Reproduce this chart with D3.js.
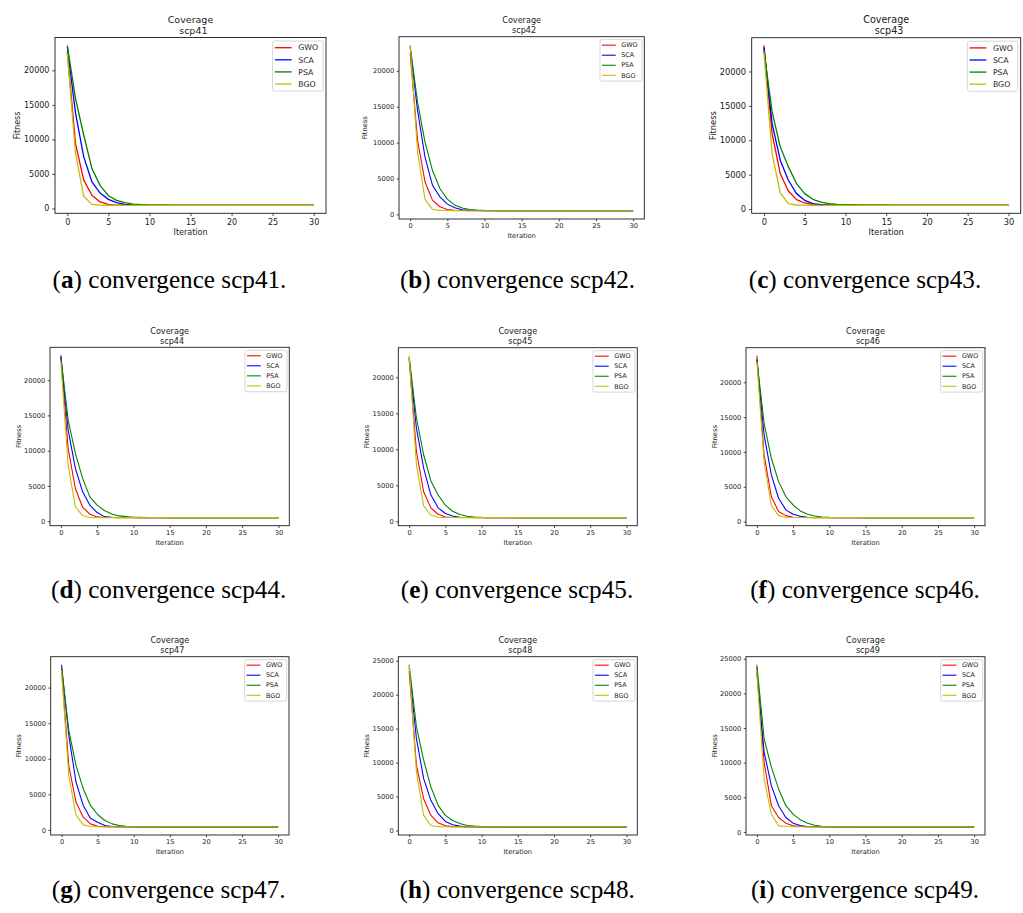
<!DOCTYPE html>
<html>
<head>
<meta charset="utf-8">
<script src="https://cdn.jsdelivr.net/npm/d3@7"></script>
<style>
body { margin: 0; background: #fff; }
svg text { font-family: "DejaVu Sans", sans-serif; fill: #222; }
svg text.caption { font-family: "Liberation Serif", serif; fill: #000; }
</style>
</head>
<body>
<div id="content"></div>
<script>
const w = 1023
const h = 913

const iterations = [0,1,2,3,4,5,6,7,8,9,10,11,12,13,14,15,16,17,18,19,20,21,22,23,24,25,26,27,28,29,30];
const xTicks = [0,5,10,15,20,25,30];
const yTicks = [0,5000,10000,15000,20000,25000];
const algorithms = ["GWO","SCA","PSA","BGO"];
const problems = ["scp41","scp42","scp43","scp44","scp45","scp46","scp47","scp48","scp49"];
const letters = ["a","b","c","d","e","f","g","h","i"];

// fitness per iteration
const gwo41 = [22600,9400,4100,1900,930,590,480,460,455,452,450, 450,450,450,450,450,450,450,450,450,450, 450,450,450,450,450,450,450,450,450,450];
const sca41 = [23400,13800,7470,3830,2230,1310,830,590,490,465,455, 452,450,450,450,450,450,450,450,450,450, 450,450,450,450,450,450,450,450,450,450];
const psa41 = [23600,15900,10600,5770,3300,1840,1160,830,630,530,480, 465,458,455,452,450,450,450,450,450,450, 450,450,450,450,450,450,450,450,450,450];
const bgo41 = [22500,7950,1750,590,480,460,455,452,450,450,450, 450,450,450,450,450,450,450,450,450,450, 450,450,450,450,450,450,450,450,450,450];

const gwo42 = [22500,10300,4530,1990,1060,690,560,530,520,515,512, 510,510,510,510,510,510,510,510,510,510, 510,510,510,510,510,510,510,510,510,510];
const sca42 = [23300,14460,7990,4070,2450,1430,920,650,560,530,520, 515,512,510,510,510,510,510,510,510,510, 510,510,510,510,510,510,510,510,510,510];
const psa42 = [23500,15600,10070,6140,3600,2130,1290,880,690,600,555, 535,525,520,515,512,510,510,510,510,510, 510,510,510,510,510,510,510,510,510,510];
const bgo42 = [23600,8680,2080,690,560,530,520,515,512,510,510, 510,510,510,510,510,510,510,510,510,510, 510,510,510,510,510,510,510,510,510,510];

const gwo43 = [23750,11000,5160,2630,1360,880,630,585,560,550,545, 540,540,540,540,540,540,540,540,540,540, 540,540,540,540,540,540,540,540,540,540];
const sca43 = [23500,12460,7100,4190,2240,1270,780,630,580,560,550, 545,540,540,540,540,540,540,540,540,540, 540,540,540,540,540,540,540,540,540,540];
const psa43 = [23000,14160,9050,6130,3700,2240,1410,1020,780,680,630, 600,580,565,555,550,545,540,540,540,540, 540,540,540,540,540,540,540,540,540,540];
const bgo43 = [22800,8080,2340,780,585,560,550,545,540,540,540, 540,540,540,540,540,540,540,540,540,540, 540,540,540,540,540,540,540,540,540,540];

const gwo44 = [23300,10330,4640,1990,1000,620,540,525,520,520,520, 520,520,520,520,520,520,520,520,520,520, 520,520,520,520,520,520,520,520,520,520];
const sca44 = [23500,12940,7490,4170,2280,1230,660,570,540,530,525, 520,520,520,520,520,520,520,520,520,520, 520,520,520,520,520,520,520,520,520,520];
const psa44 = [23200,14360,9620,6070,3460,2280,1520,1040,760,660,570, 545,535,528,524,520,520,520,520,520,520, 520,520,520,520,520,520,520,520,520,520];
const bgo44 = [22500,7960,2040,810,540,525,520,520,520,520,520, 520,520,520,520,520,520,520,520,520,520, 520,520,520,520,520,520,520,520,520,520];

const gwo45 = [22500,9720,4110,1870,980,610,540,525,520,518,515, 515,515,515,515,515,515,515,515,515,515, 515,515,515,515,515,515,515,515,515,515];
const sca45 = [22700,12990,7380,3650,1870,1080,750,560,535,525,520, 515,515,515,515,515,515,515,515,515,515, 515,515,515,515,515,515,515,515,515,515];
const psa45 = [22800,14390,9250,5610,3650,2240,1400,940,700,610,560, 540,530,525,520,518,515,515,515,515,515, 515,515,515,515,515,515,515,515,515,515];
const bgo45 = [23000,7850,2150,840,560,530,520,518,515,515,515, 515,515,515,515,515,515,515,515,515,515, 515,515,515,515,515,515,515,515,515,515];

const gwo46 = [23800,9570,3590,1440,860,620,590,580,578,576,575, 575,575,575,575,575,575,575,575,575,575, 575,575,575,575,575,575,575,575,575,575];
const sca46 = [23300,12440,6700,3350,1680,1050,770,620,595,585,580, 577,575,575,575,575,575,575,575,575,575, 575,575,575,575,575,575,575,575,575,575];
const psa46 = [23200,14120,9090,5740,3590,2390,1530,1050,810,670,620, 600,590,585,580,578,576,575,575,575,575, 575,575,575,575,575,575,575,575,575,575];
const bgo46 = [23000,8610,2300,860,620,590,580,577,575,575,575, 575,575,575,575,575,575,575,575,575,575, 575,575,575,575,575,575,575,575,575,575];

const gwo47 = [22600,9080,3910,1790,850,520,450,435,430,428,425, 425,425,425,425,425,425,425,425,425,425, 425,425,425,425,425,425,425,425,425,425];
const sca47 = [23200,13320,6730,3440,1650,1080,610,470,445,435,430, 427,425,425,425,425,425,425,425,425,425, 425,425,425,425,425,425,425,425,425,425];
const psa47 = [22800,14020,9080,5790,3440,2170,1320,850,610,520,470, 450,440,435,430,428,425,425,425,425,425, 425,425,425,425,425,425,425,425,425,425];
const bgo47 = [22400,7670,2120,710,470,440,430,427,425,425,425, 425,425,425,425,425,425,425,425,425,425, 425,425,425,425,425,425,425,425,425,425];

const gwo48 = [23500,9620,4680,2220,1130,690,570,545,538,534,532, 530,530,530,530,530,530,530,530,530,530, 530,530,530,530,530,530,530,530,530,530];
const sca48 = [24000,13560,7640,4440,2470,1330,840,640,560,545,538, 535,532,530,530,530,530,530,530,530,530, 530,530,530,530,530,530,530,530,530,530];
const psa48 = [24400,15290,10360,6410,3700,2220,1480,1040,740,640,590, 565,550,542,537,534,532,530,530,530,530, 530,530,530,530,530,530,530,530,530,530];
const bgo48 = [24400,8630,2220,740,560,540,535,532,530,530,530, 530,530,530,530,530,530,530,530,530,530, 530,530,530,530,530,530,530,530,530,530];

const gwo49 = [23800,10080,3780,2080,1260,870,775,740,730,725,722, 720,720,720,720,720,720,720,720,720,720, 720,720,720,720,720,720,720,720,720,720];
const sca49 = [23000,11530,6690,3780,2080,1260,920,775,745,735,728, 724,722,720,720,720,720,720,720,720,720, 720,720,720,720,720,720,720,720,720,720];
const psa49 = [24130,13470,9350,6200,3780,2570,1740,1260,970,820,775, 750,740,733,728,725,722,720,720,720,720, 720,720,720,720,720,720,720,720,720,720];
const bgo49 = [23000,7660,2570,870,775,745,735,728,724,722,720, 720,720,720,720,720,720,720,720,720,720, 720,720,720,720,720,720,720,720,720,720];

const fitness = {
  scp41: [gwo41, sca41, psa41, bgo41],
  scp42: [gwo42, sca42, psa42, bgo42],
  scp43: [gwo43, sca43, psa43, bgo43],
  scp44: [gwo44, sca44, psa44, bgo44],
  scp45: [gwo45, sca45, psa45, bgo45],
  scp46: [gwo46, sca46, psa46, bgo46],
  scp47: [gwo47, sca47, psa47, bgo47],
  scp48: [gwo48, sca48, psa48, bgo48],
  scp49: [gwo49, sca49, psa49, bgo49]
};

const colors = ["#ff0000", "#0000ff", "#008000", "#bfbf00"];

// frame of each small plot on the page (L,R,T,B), scale k, font sizes
const panels = [
  {L:55,    R:326,    T:37.5,  B:213.3, k:1,    tf:8,   hf:9.5, lf:7.8, fit:38, cx:169.5, cy:288},
  {L:399,   R:644.3,  T:36.7,  B:219,   k:0.83, tf:6.7, hf:8.1, lf:6.4, fit:34, cx:517.5, cy:288},
  {L:751.7, R:1020.7, T:37.7,  B:213.3, k:1,    tf:8.3, hf:9.6, lf:7.8, fit:39, cx:865,   cy:288},
  {L:50,    R:289.3,  T:347.3, B:525.7, k:0.83, tf:6.7, hf:8.1, lf:6.4, fit:31, cx:168.7, cy:598.3},
  {L:398.3, R:637.3,  T:347.7, B:525.7, k:0.83, tf:6.7, hf:8.1, lf:6.4, fit:31.6, cx:517, cy:598.3},
  {L:746,   R:985,    T:347.7, B:525.7, k:0.83, tf:6.7, hf:8.1, lf:6.4, fit:31.7, cx:865, cy:598.3},
  {L:50.7,  R:289,    T:656.7, B:835,   k:0.83, tf:6.7, hf:8.1, lf:6.4, fit:31.7, cx:168.7, cy:898.3},
  {L:398.3, R:637.3,  T:656.7, B:835,   k:0.83, tf:6.7, hf:8.1, lf:6.4, fit:31.6, cx:517.2, cy:898.3},
  {L:746,   R:985,    T:656.7, B:835,   k:0.83, tf:6.7, hf:8.1, lf:6.4, fit:31.7, cx:865, cy:898.3}
];

let svg = d3.select("#content")
            .append("svg")
            .attr("width", w)
            .attr("height", h)

svg.append("rect").attr("width", w).attr("height", h).attr("fill", "#fff");

problems.forEach((p, i) => drawPanel(p, i));

function drawPanel(name, i) {
    const c = panels[i];
    const series = fitness[name];
    const all = series.flat();
    const lo = d3.min(all), hi = d3.max(all), pad = (hi - lo) * 0.05;

    const x = d3.scaleLinear().domain([-1.5, 31.5]).range([c.L, c.R]);
    const y = d3.scaleLinear().domain([lo - pad, hi + pad]).range([c.B, c.T]);

    const g = svg.append("g");
    const tl = 2.8 * c.k, tp = 2.8 * c.k;

    // axes
    const xa = g.append("g").attr("transform", "translate(0," + c.B + ")")
        .call(d3.axisBottom(x).tickValues(xTicks).tickSize(tl).tickPadding(tp));
    const ya = g.append("g").attr("transform", "translate(" + c.L + ",0)")
        .call(d3.axisLeft(y).tickValues(yTicks.filter(v => v <= y.domain()[1]))
              .tickFormat(d3.format("d")).tickSize(tl).tickPadding(tp));
    [xa, ya].forEach(a => {
        a.attr("font-family", null).attr("font-size", null);
        a.select(".domain").remove();
        a.selectAll("line").attr("stroke", "#222").attr("stroke-width", 0.8);
        a.selectAll("text").style("font-size", c.tf + "px").attr("fill", "#222");
    });

    // lines
    const line = d3.line().x((d, j) => x(iterations[j])).y(d => y(d));
    series.forEach((s, j) => {
        g.append("path")
            .datum(s)
            .attr("d", line)
            .attr("fill", "none")
            .attr("stroke", colors[j])
            .attr("stroke-width", 1.3 * c.k)
            .attr("stroke-linejoin", "round");
    });

    // frame
    g.append("rect")
        .attr("x", c.L).attr("y", c.T)
        .attr("width", c.R - c.L).attr("height", c.B - c.T)
        .attr("fill", "none").attr("stroke", "#1a1a1a").attr("stroke-width", 0.9);

    // title
    const mid = (c.L + c.R) / 2;
    g.append("text").attr("x", mid).attr("y", c.T - 3.5 - 1.2 * c.hf)
        .attr("text-anchor", "middle").style("font-size", c.hf + "px").text("Coverage");
    g.append("text").attr("x", mid + 0.3 * c.hf).attr("y", c.T - 3.5)
        .attr("text-anchor", "middle").style("font-size", c.hf + "px").text(name);

    // axis labels
    g.append("text").attr("x", mid).attr("y", c.B + 22 * c.k + (c.k < 1 ? 1 : 0))
        .attr("text-anchor", "middle").style("font-size", c.tf + "px").text("Iteration");
    g.append("text")
        .attr("transform", "translate(" + (c.L - c.fit) + "," + ((c.T + c.B) / 2) + ") rotate(-90)")
        .attr("dy", "0.35em")
        .attr("text-anchor", "middle").style("font-size", c.tf + "px").text("Fitness");

    // legend
    const k = c.k;
    const lw = 50.6 * k, lh = 50 * k;
    const lg = g.append("g").attr("transform", "translate(" + (c.R - 2.8 * k - lw) + "," + (c.T + 3.5 * k) + ")");
    lg.append("rect").attr("width", lw).attr("height", lh).attr("rx", 2 * k)
        .attr("fill", "#fff").attr("fill-opacity", 0.8)
        .attr("stroke", "#cccccc").attr("stroke-width", 0.8);
    algorithms.forEach((a, j) => {
        const cy = 6.7 * k + j * 12.1 * k;
        lg.append("line").attr("x1", 2.3 * k).attr("x2", 19 * k).attr("y1", cy).attr("y2", cy)
            .attr("stroke", colors[j]).attr("stroke-width", 1.3 * k);
        lg.append("text").attr("x", 25.6 * k).attr("y", cy).attr("dy", "0.35em")
            .style("font-size", c.lf + "px").text(a);
    });

    // caption
    const cap = svg.append("text").attr("class", "caption")
        .attr("x", c.cx).attr("y", c.cy).attr("text-anchor", "middle")
        .style("font-size", "25.2px");
    cap.append("tspan").text("(");
    cap.append("tspan").attr("font-weight", "bold").text(letters[i]);
    cap.append("tspan").text(") convergence " + name + ".");
}
</script>
</body>
</html>
